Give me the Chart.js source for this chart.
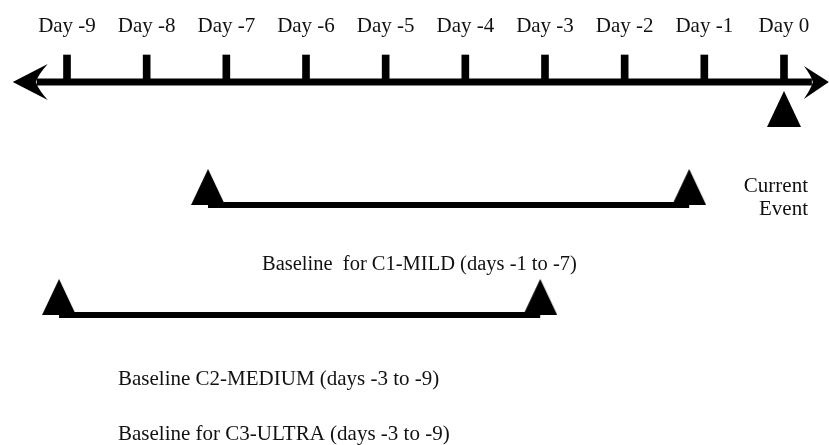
<!DOCTYPE html>
<html>
<head>
<meta charset="utf-8">
<script src="https://cdn.jsdelivr.net/npm/chart.js"></script>
<style>
html,body{margin:0;padding:0;background:#ffffff;}
#wrap{width:829px;height:445px;position:relative;}
</style>
</head>
<body>
<div id="wrap"><canvas id="c"></canvas></div>
<script>
// ---- data ----
const dayValues = [-9, -8, -7, -6, -5, -4, -3, -2, -1, 0];
const dayLabels = ['Day -9', 'Day -8', 'Day -7', 'Day -6', 'Day -5', 'Day -4', 'Day -3', 'Day -2', 'Day -1', 'Day 0'];
const axisExtent = [-9.38, 0.35];      // shaft of the time axis (days)
const tickSpan = [0, 0.27];            // tick marks, from axis level upward
const axisLevel = 0;
const c1Range = [-7.23, -1.19];        // baseline window drawn for C1
const c1Level = -1.23;
const c2Range = [-9.10, -3.06];        // baseline window drawn for C2
const c2Level = -2.33;
const currentEventDay = [0];
const currentEventLevel = -0.45;
const captionC1 = 'Baseline  for C1-MILD (days -1 to -7)';
const captionC2 = 'Baseline C2-MEDIUM (days -3 to -9)';
const captionC3 = 'Baseline for C3-ULTRA (days -3 to -9)';
const currentEventText = ['Current', 'Event'];

// ---- triangle marker image (base sits on the point) ----
function makeTriangle(w, h) {
  const cv = document.createElement('canvas');
  cv.width = w; cv.height = h * 2;
  const g = cv.getContext('2d');
  g.fillStyle = '#000';
  g.beginPath();
  g.moveTo(w / 2, 0);
  g.lineTo(w, h);
  g.lineTo(0, h);
  g.closePath();
  g.fill();
  return cv;
}
const tri = makeTriangle(34, 36);

const FONT = '21px "Liberation Serif", "Times New Roman", serif';
const FONT_C1 = '20.5px "Liberation Serif", "Times New Roman", serif';
const TEXT = '#111111';

const decor = {
  id: 'decor',
  afterDatasetsDraw(chart) {
    const ctx = chart.ctx;
    const xs = chart.scales.x, ys = chart.scales.y;
    const shaft = chart.getDatasetMeta(0).data;
    const L = shaft[0], R = shaft[shaft.length - 1];
    ctx.save();
    ctx.fillStyle = '#000';
    // left arrowhead
    ctx.beginPath();
    ctx.moveTo(L.x - 24, L.y);
    ctx.lineTo(L.x + 11, L.y - 18);
    ctx.quadraticCurveTo(L.x + 2, L.y - 8, L.x - 1, L.y);
    ctx.quadraticCurveTo(L.x + 2, L.y + 8, L.x + 11, L.y + 18);
    ctx.closePath();
    ctx.fill();
    // right arrowhead
    ctx.beginPath();
    ctx.moveTo(R.x + 17, R.y);
    ctx.lineTo(R.x - 8, R.y - 16);
    ctx.quadraticCurveTo(R.x - 1, R.y - 7, R.x + 1, R.y);
    ctx.quadraticCurveTo(R.x - 1, R.y + 7, R.x - 8, R.y + 17);
    ctx.closePath();
    ctx.fill();

    // texts
    ctx.fillStyle = TEXT;
    ctx.font = FONT;
    ctx.textBaseline = 'alphabetic';
    ctx.textAlign = 'center';
    const axisY = ys.getPixelForValue(axisLevel);
    dayValues.forEach((d, i) => {
      ctx.fillText(dayLabels[i], xs.getPixelForValue(d), axisY - 50);
    });
    ctx.textAlign = 'right';
    ctx.fillText(currentEventText[0], 808, 192);
    ctx.fillText(currentEventText[1], 808, 215);
    ctx.textAlign = 'left';
    ctx.fillText(captionC2, 118, 385);
    ctx.fillText(captionC3, 118, 440);
    ctx.font = FONT_C1;
    ctx.fillText(captionC1, 262, 270);
    ctx.restore();
  }
};

new Chart(document.getElementById('c'), {
  type: 'line',
  data: {
    datasets: [
      {
        label: 'axis',
        data: axisExtent.map(x => ({x, y: axisLevel})),
        borderColor: '#000', borderWidth: 7, borderCapStyle: 'butt',
        pointRadius: 0, order: 3
      },
      {
        type: 'bar',
        label: 'ticks',
        data: dayValues.map(x => ({x, y: tickSpan.slice()})),
        backgroundColor: '#000', borderWidth: 0,
        barThickness: 7, order: 4
      },
      {
        label: 'C1',
        data: c1Range.map(x => ({x, y: c1Level})),
        borderColor: '#000', borderWidth: 6, borderCapStyle: 'butt',
        pointStyle: tri, pointRadius: 10, order: 2
      },
      {
        label: 'C2',
        data: c2Range.map(x => ({x, y: c2Level})),
        borderColor: '#000', borderWidth: 6, borderCapStyle: 'butt',
        pointStyle: tri, pointRadius: 10, order: 2
      },
      {
        label: 'current',
        data: currentEventDay.map(x => ({x, y: currentEventLevel})),
        showLine: false,
        pointStyle: tri, pointRadius: 10, order: 1
      }
    ]
  },
  options: {
    responsive: true,
    maintainAspectRatio: false,
    animation: false,
    events: [],
    layout: { padding: 0, autoPadding: false },
    plugins: { legend: { display: false }, tooltip: { enabled: false }, title: { display: false } },
    scales: {
      x: { type: 'linear', min: -9.841, max: 0.565, offset: false, display: false, grid: { display: false } },
      y: { type: 'linear', min: -3.63, max: 0.82, display: false, grid: { display: false } }
    }
  },
  plugins: [decor]
});
</script>
</body>
</html>
